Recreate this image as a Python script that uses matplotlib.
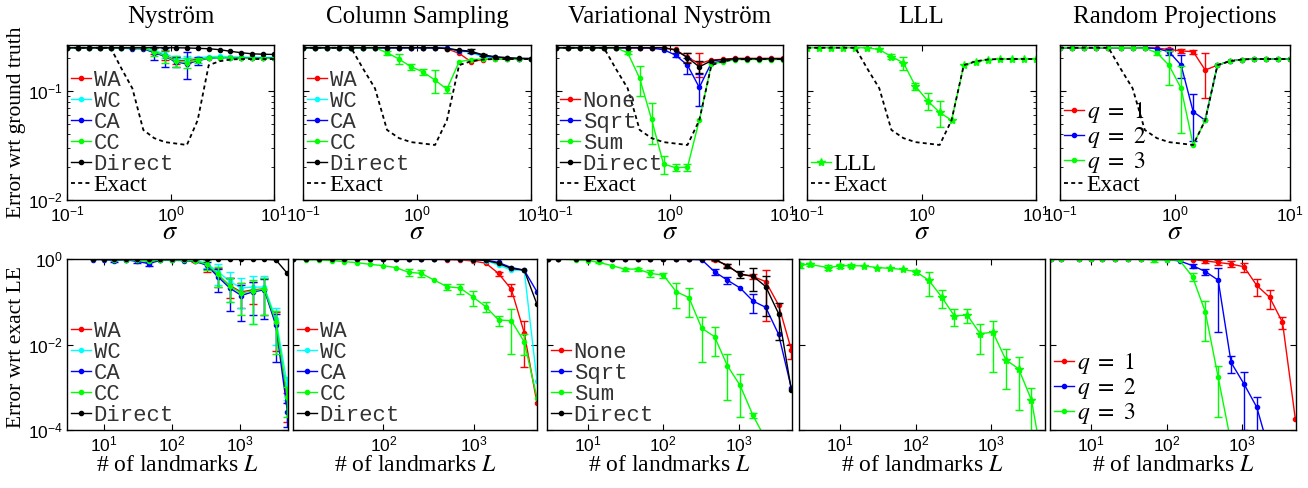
import numpy as np
import matplotlib
matplotlib.use('Agg')
import matplotlib.pyplot as plt

plt.rcParams['font.family'] = 'Liberation Sans'
plt.rcParams['mathtext.fontset'] = 'stix'
plt.rcParams['axes.linewidth'] = 1.0

# ---------------- data: top row (error vs sigma) ----------------
sigma = [0.1, 0.127, 0.162, 0.207, 0.264, 0.336, 0.428, 0.546, 0.695, 0.886,
         1.13, 1.44, 1.83, 2.34, 2.98, 3.79, 4.83, 6.16, 7.85, 10.0]

exact_top = [0.25, 0.25, 0.25, 0.25, 0.25, 0.161, 0.106, 0.044, 0.037, 0.034,
             0.033, 0.032, 0.054, 0.173, 0.188, 0.195, 0.197, 0.197, 0.197, 0.197]

nys_wa = [0.25, 0.25, 0.25, 0.25, 0.25, 0.25, 0.249, 0.247, 0.232, 0.212,
          0.192, 0.19, 0.196, 0.203, 0.205, 0.204, 0.203, 0.203, 0.202, 0.202]
nys_wc = [0.25, 0.25, 0.25, 0.25, 0.25, 0.25, 0.249, 0.248, 0.236, 0.22,
          0.2, 0.198, 0.202, 0.207, 0.208, 0.206, 0.205, 0.204, 0.204, 0.204]
nys_ca = [0.25, 0.25, 0.25, 0.25, 0.25, 0.248, 0.245, 0.245, 0.225, 0.208,
          0.185, 0.178, 0.19, 0.2, 0.203, 0.202, 0.202, 0.201, 0.201, 0.201]
nys_cc = [0.25, 0.25, 0.25, 0.25, 0.25, 0.25, 0.249, 0.247, 0.23, 0.21,
          0.188, 0.183, 0.192, 0.201, 0.203, 0.202, 0.201, 0.201, 0.2, 0.2]
nys_direct = [0.25, 0.25, 0.25, 0.25, 0.25, 0.25, 0.25, 0.25, 0.25, 0.25,
              0.25, 0.249, 0.247, 0.245, 0.24, 0.232, 0.225, 0.22, 0.218, 0.217]
nys_wa_err = [0, 0, 0, 0, 0, 0, 0, 0, 0.015, 0.02, 0.015, 0.01, 0, 0, 0, 0, 0, 0, 0, 0]
nys_wc_err = [0, 0, 0, 0, 0, 0, 0, 0, 0, 0.02, 0.01, 0.01, 0, 0, 0, 0, 0, 0, 0, 0]
nys_ca_err = [0, 0, 0, 0, 0, 0, 0, 0, 0.03, 0.04, 0.02, 0.05, 0.015, 0, 0, 0, 0, 0, 0, 0]
nys_cc_err = [0, 0, 0, 0, 0, 0, 0, 0, 0.02, 0.03, 0.02, 0.02, 0.01, 0, 0, 0, 0, 0, 0, 0]

cs_wa = [0.25, 0.25, 0.25, 0.25, 0.25, 0.25, 0.25, 0.25, 0.25, 0.25,
         0.25, 0.25, 0.245, 0.222, 0.186, 0.195, 0.197, 0.197, 0.197, 0.197]
cs_wc = [0.25, 0.25, 0.25, 0.25, 0.25, 0.25, 0.25, 0.25, 0.25, 0.25,
         0.25, 0.25, 0.247, 0.232, 0.228, 0.205, 0.2, 0.198, 0.198, 0.198]
cs_ca = [0.25, 0.25, 0.25, 0.25, 0.25, 0.25, 0.25, 0.25, 0.25, 0.25,
         0.25, 0.249, 0.247, 0.235, 0.23, 0.212, 0.204, 0.2, 0.199, 0.199]
cs_cc = [0.25, 0.25, 0.25, 0.25, 0.25, 0.25, 0.25, 0.225, 0.197, 0.167,
         0.15, 0.126, 0.104, 0.186, 0.195, 0.197, 0.198, 0.198, 0.198, 0.198]
cs_direct = [0.25, 0.25, 0.25, 0.25, 0.25, 0.25, 0.25, 0.25, 0.25, 0.25,
             0.25, 0.25, 0.246, 0.238, 0.232, 0.215, 0.207, 0.203, 0.2, 0.199]
cs_cc_err = [0, 0, 0, 0, 0, 0, 0, 0.01, 0.02, 0.01, 0.01, 0.03, 0.008, 0, 0, 0, 0, 0, 0, 0]
cs_direct_err = [0, 0, 0, 0, 0, 0, 0, 0, 0, 0, 0, 0, 0, 0, 0.01, 0.006, 0, 0, 0, 0]

vn_none = [0.25, 0.25, 0.25, 0.25, 0.25, 0.25, 0.25, 0.25, 0.25, 0.25,
           0.241, 0.204, 0.179, 0.193, 0.196, 0.2, 0.2, 0.2, 0.2, 0.2]
vn_sqrt = [0.25, 0.25, 0.25, 0.25, 0.25, 0.25, 0.25, 0.25, 0.248, 0.24,
           0.214, 0.173, 0.108, 0.182, 0.188, 0.196, 0.196, 0.196, 0.196, 0.196]
vn_sum = [0.25, 0.25, 0.25, 0.25, 0.25, 0.25, 0.225, 0.131, 0.055, 0.0214,
          0.0198, 0.02, 0.054, 0.177, 0.186, 0.195, 0.195, 0.195, 0.195, 0.195]
vn_direct = [0.25, 0.25, 0.25, 0.25, 0.25, 0.25, 0.25, 0.25, 0.25, 0.25,
             0.238, 0.203, 0.167, 0.19, 0.195, 0.198, 0.198, 0.198, 0.198, 0.198]
vn_none_err = [0, 0, 0, 0, 0, 0, 0, 0, 0, 0, 0, 0.02, 0.045, 0, 0, 0, 0, 0, 0, 0]
vn_sqrt_err = [0, 0, 0, 0, 0, 0, 0, 0, 0, 0, 0.01, 0.03, 0.035, 0, 0, 0, 0, 0, 0, 0]
vn_sum_err = [0, 0, 0, 0, 0, 0, 0.008, 0.04, 0.022, 0.004, 0.0015, 0.0015, 0, 0, 0, 0, 0, 0, 0, 0]
vn_direct_err = [0, 0, 0, 0, 0, 0, 0, 0, 0, 0, 0, 0.02, 0.02, 0, 0, 0, 0, 0, 0, 0]

lll_top = [0.25, 0.25, 0.25, 0.25, 0.25, 0.25, 0.241, 0.207, 0.182, 0.111,
           0.0815, 0.0637, 0.054, 0.173, 0.186, 0.195, 0.197, 0.197, 0.197, 0.197]
lll_top_err = [0, 0, 0, 0, 0, 0, 0, 0.01, 0.025, 0.008, 0.015, 0.017, 0, 0, 0, 0, 0, 0, 0, 0]

rp_q1 = [0.25, 0.25, 0.25, 0.25, 0.25, 0.25, 0.25, 0.25, 0.248, 0.241,
         0.234, 0.23, 0.156, 0.173, 0.188, 0.195, 0.197, 0.197, 0.197, 0.197]
rp_q2 = [0.25, 0.25, 0.25, 0.25, 0.25, 0.25, 0.25, 0.25, 0.246, 0.23,
         0.173, 0.0646, 0.054, 0.173, 0.188, 0.195, 0.197, 0.197, 0.197, 0.197]
rp_q3 = [0.25, 0.25, 0.25, 0.25, 0.25, 0.25, 0.25, 0.248, 0.225, 0.173,
         0.106, 0.032, 0.054, 0.173, 0.188, 0.195, 0.197, 0.197, 0.197, 0.197]
rp_q1_err = [0, 0, 0, 0, 0, 0, 0, 0, 0, 0.01, 0.012, 0.01, 0.07, 0, 0, 0, 0, 0, 0, 0]
rp_q2_err = [0, 0, 0, 0, 0, 0, 0, 0, 0, 0.015, 0.04, 0.03, 0, 0, 0, 0, 0, 0, 0, 0]
rp_q3_err = [0, 0, 0, 0, 0, 0, 0, 0, 0.01, 0.06, 0.065, 0, 0, 0, 0, 0, 0, 0, 0, 0]

# ---------------- data: bottom row (error vs number of landmarks) ----------------
L = [3, 4, 7, 10, 14, 21, 31, 46, 68, 101, 149, 220, 325, 480, 710, 1049,
     1550, 2290, 3384, 5000]
L_nys = [7, 10, 14, 21, 31, 46, 68, 101, 149, 220, 325, 480, 710, 1049,
         1550, 2290, 3384, 5000]
L_cs = [10, 13.9, 19.2, 26.7, 37.0, 51.3, 71.2, 98.7, 136.9, 190, 263, 365,
        507, 703, 975, 1353, 1876, 2602, 3607, 5000]

nysL_wa = [0.98, 0.98, 0.96, 0.97, 0.95, 0.9, 0.95, 0.95, 0.94, 0.9, 0.74,
           0.42, 0.24, 0.17, 0.19, 0.2, 0.032, 4.5e-4]
nysL_wc = [0.98, 0.98, 0.97, 0.97, 0.96, 0.93, 0.96, 0.96, 0.95, 0.93, 0.8,
           0.5, 0.3, 0.21, 0.22, 0.22, 0.04, 1.1e-3]
nysL_ca = [0.97, 0.97, 0.92, 0.96, 0.88, 0.78, 0.93, 0.93, 0.92, 0.88, 0.72,
           0.38, 0.21, 0.14, 0.17, 0.19, 0.028, 2.7e-4]
nysL_cc = [0.98, 0.98, 0.96, 0.97, 0.94, 0.88, 0.95, 0.95, 0.94, 0.9, 0.76,
           0.44, 0.23, 0.16, 0.18, 0.2, 0.034, 6e-4]
nysL_direct = [1, 1, 1, 1, 1, 1, 1, 1, 1, 1, 1, 1, 1, 1, 1, 0.99, 0.95, 0.46]
nysL_wa_err = [0, 0, 0, 0, 0, 0, 0, 0, 0, 0.05, 0.25, 0.2, 0.12, 0.1, 0.1,
               0.15, 0.025, 3e-4]
nysL_wc_err = [0, 0, 0, 0, 0, 0, 0, 0, 0, 0, 0.2, 0.25, 0.2, 0.14, 0.19,
               0.17, 0.03, 6e-4]
nysL_ca_err = [0, 0, 0.05, 0, 0.06, 0.08, 0, 0, 0, 0, 0.15, 0.21, 0.15, 0.105,
               0.12, 0.15, 0.024, 1.5e-4]
nysL_cc_err = [0, 0, 0, 0, 0, 0, 0, 0, 0, 0, 0.2, 0.22, 0.13, 0.11, 0.15,
               0.15, 0.028, 4e-4]

csL_wa = [1, 1, 1, 1, 1, 1, 1, 1, 1, 0.99, 0.99, 0.98, 0.97, 0.95, 0.9, 0.8,
          0.46, 0.195, 0.019, 4.2e-4]
csL_wc = [1, 1, 1, 1, 1, 1, 1, 1, 1, 0.99, 0.99, 0.98, 0.98, 0.98, 0.96,
          0.92, 0.72, 0.55, 0.55, 1.4e-3]
csL_ca = [1, 1, 1, 1, 1, 1, 1, 1, 1, 1, 1, 1, 1, 1, 0.98, 0.95, 0.83, 0.63,
          0.55, 0.17]
csL_cc = [1, 0.96, 0.95, 0.92, 0.866, 0.82, 0.75, 0.70, 0.63, 0.49, 0.46, 0.32,
          0.225, 0.21, 0.13, 0.077, 0.0375, 0.036, 0.0116, 5.7e-4]
csL_direct = [1, 1, 1, 1, 1, 1, 1, 1, 1, 1, 1, 1, 1, 0.99, 0.97, 0.93, 0.79,
              0.6, 0.55, 0.087]
csL_wa_err = [0, 0, 0, 0, 0, 0, 0, 0, 0, 0, 0, 0, 0, 0, 0, 0, 0.05, 0.06,
              0.016, 0]
csL_cc_err = [0, 0, 0, 0, 0, 0, 0, 0, 0, 0.08, 0.08, 0, 0.04, 0.055, 0.05,
              0.02, 0.01, 0.03, 0.006, 0]

vnL_none = [1, 1, 1, 1, 1, 1, 1, 1, 1, 1, 1, 0.99, 0.98, 0.97, 0.70, 0.44,
            0.39, 0.295, 0.084, 7.5e-3]
vnL_sqrt = [1, 1, 1, 1, 1, 1, 1, 0.99, 0.99, 0.99, 0.98, 0.98, 0.96, 0.505,
            0.32, 0.21, 0.104, 0.074, 0.0174, 9.5e-4]
vnL_sum = [1, 1, 0.95, 0.92, 0.835, 0.70, 0.58, 0.58, 0.46, 0.42, 0.172, 0.125,
           0.024, 0.0153, 0.0032, 1.1e-3, 2.2e-4, 6e-5, 1e-5, 3e-6]
vnL_direct = [1, 1, 1, 1, 1, 1, 1, 1, 1, 1, 1, 0.99, 0.98, 0.98, 0.70, 0.44,
              0.40, 0.226, 0.053, 8.6e-4]
vnL_none_err = [0, 0, 0, 0, 0, 0, 0, 0, 0, 0, 0, 0, 0, 0.05, 0.06, 0, 0.05,
                0.26, 0, 0.003]
vnL_sqrt_err = [0, 0, 0, 0, 0, 0, 0, 0, 0, 0, 0, 0, 0, 0.09, 0.06, 0, 0.05,
                0, 0, 0]
vnL_sum_err = [0, 0, 0, 0, 0.03, 0, 0.05, 0.05, 0.08, 0.06, 0.1, 0.08, 0.02,
               0.01, 0.0027, 0.0009, 3e-5, 0, 0, 0]
vnL_direct_err = [0, 0, 0, 0, 0, 0, 0, 0, 0, 0, 0, 0, 0, 0.03, 0.07, 0.08,
                  0.22, 0.18, 0.04, 0]

lllL = [0.724, 0.75, 0.63, 0.69, 0.70, 0.69, 0.63, 0.605, 0.57, 0.505, 0.32,
        0.131, 0.0465, 0.049, 0.018, 0.0193, 4.4e-3, 2.7e-3, 5.0e-4, 1e-5]
lllL_err = [0.1, 0.05, 0.08, 0.08, 0.05, 0, 0, 0, 0, 0.05, 0.18, 0.06, 0.02,
            0.017, 0.012, 0.017, 0.0035, 0.0024, 4.7e-4, 0]

rpL_q1 = [1, 1, 1, 1, 1, 1, 1, 1, 0.99, 0.99, 0.98, 0.97, 0.9, 0.83, 0.76,
          0.66, 0.24, 0.127, 0.033, 1.8e-4]
rpL_q2 = [1, 1, 1, 1, 1, 1, 1, 1, 0.99, 0.97, 0.9, 0.70, 0.51, 0.32, 3.8e-3,
          1.2e-3, 3.4e-4, 3e-5, 1e-5, 5e-6]
rpL_q3 = [1, 1, 1, 1, 1, 1, 1, 1, 0.95, 0.95, 0.93, 0.386, 0.057, 1.7e-3,
          5e-5, 1e-5, 5e-6, 3e-6, 2e-6, 1e-6]
rpL_q1_err = [0, 0, 0, 0, 0, 0, 0, 0, 0, 0, 0, 0, 0.1, 0.1, 0.12, 0.15, 0.1,
              0.06, 0.01, 0]
rpL_q2_err = [0, 0, 0, 0, 0, 0, 0, 0, 0, 0, 0, 0.08, 0.08, 0.3, 0.0016,
              0.0011, 2.5e-4, 0, 0, 0]
rpL_q3_err = [0, 0, 0, 0, 0, 0, 0, 0, 0.1, 0, 0, 0.08, 0.045, 1.5e-3, 0, 0,
              0, 0, 0, 0]

RED, CYAN, BLUE, GREEN, BLACK = '#ff0000', '#00ffff', '#0000ff', '#00ff00', '#000000'

W, H = 1308, 488
fig = plt.figure(figsize=(W / 100, H / 100), dpi=100)


def px_axes(x0, x1, y0, y1):
    return fig.add_axes([x0 / W, 1 - y1 / H, (x1 - x0) / W, (y1 - y0) / H])


def series(ax, x, y, err, color, label, marker='.', ms=6):
    line, = ax.plot(x, y, color=color, marker=marker, ms=ms, lw=1.0, label=label)
    if err is not None:
        idx = [i for i, e in enumerate(err) if e > 0]
        if idx:
            xe = [x[i] for i in idx]
            ye = [y[i] for i in idx]
            ee = [err[i] for i in idx]
            lo = [min(e, yy * 0.999) for e, yy in zip(ee, ye)]
            ax.errorbar(xe, ye, yerr=[lo, ee], fmt='none', ecolor=color,
                        elinewidth=1.0, capsize=3, capthick=1.0)
    return line


def exact(ax, x, y):
    line, = ax.plot(x, y, color='black', ls=(0, (2.2, 1.8)), lw=1.3, label='Exact')
    return line


def style(ax, top, show_y):
    ax.set_xscale('log')
    ax.set_yscale('log')
    ax.tick_params(which='both', direction='in', top=True, right=True,
                   labelsize=12.5, pad=3)
    ax.tick_params(which='major', length=4)
    ax.tick_params(which='minor', length=2)
    if top:
        ax.set_xlim(0.1, 10)
        ax.set_ylim(0.01, 0.265)
        ax.set_xticks([0.1, 1, 10])
        ax.set_yticks([0.01, 0.1])
        ax.xaxis.set_minor_locator(matplotlib.ticker.NullLocator())
        ax.set_xlabel(r'$\sigma$', fontsize=19, labelpad=-3)
    else:
        ax.set_ylim(1e-4, 1.0)
        ax.set_yticks([1e-4, 1e-2, 1])
        ax.yaxis.set_minor_locator(matplotlib.ticker.NullLocator())
        ax.xaxis.set_minor_locator(matplotlib.ticker.NullLocator())
        ax.set_xlabel('# of landmarks $L$', fontsize=17, family='Liberation Serif',
                      labelpad=1)
    if not show_y:
        ax.set_yticklabels([])
        ax.set_yticklabels([], minor=True)


def legend(ax, handles, labels):
    leg = ax.legend(handles, labels, loc='lower left', frameon=False,
                    prop={'family': 'Liberation Mono', 'size': 16},
                    handlelength=0.9, handletextpad=0.1, labelspacing=0.0,
                    borderaxespad=0.1, borderpad=0.1)
    for t in leg.get_texts():
        s = t.get_text()
        t.set_color('#333333')
        if s in ('Exact', 'LLL') or s.startswith('$'):
            t.set_fontfamily('Liberation Serif')
            t.set_fontsize(17)
            t.set_color('black')
    return leg


top_x = [(67, 274), (303, 531), (556, 783), (807, 1036), (1060, 1290)]
bot_x = [(67, 288), (293, 537), (547, 792), (799, 1045), (1050, 1296)]
titles = ['Nyström', 'Column Sampling', 'Variational Nyström', 'LLL',
          'Random Projections']

# ---------- top row ----------
axT = [px_axes(x0, x1, 45, 200) for x0, x1 in top_x]
for i, ax in enumerate(axT):
    style(ax, True, i == 0)
    x0, x1 = top_x[i]
    fig.text((x0 + x1) / 2 / W, 1 - 17 / H, titles[i], ha='center', va='center',
             fontsize=18, family='Liberation Serif')

ax = axT[0]
h = [series(ax, sigma, nys_wa, nys_wa_err, RED, 'WA'),
     series(ax, sigma, nys_wc, nys_wc_err, CYAN, 'WC'),
     series(ax, sigma, nys_ca, nys_ca_err, BLUE, 'CA'),
     series(ax, sigma, nys_cc, nys_cc_err, GREEN, 'CC'),
     series(ax, sigma, nys_direct, None, BLACK, 'Direct'),
     exact(ax, sigma, exact_top)]
legend(ax, h, ['WA', 'WC', 'CA', 'CC', 'Direct', 'Exact'])

ax = axT[1]
h = [series(ax, sigma, cs_wa, None, RED, 'WA'),
     series(ax, sigma, cs_wc, None, CYAN, 'WC'),
     series(ax, sigma, cs_ca, None, BLUE, 'CA'),
     series(ax, sigma, cs_cc, cs_cc_err, GREEN, 'CC'),
     series(ax, sigma, cs_direct, cs_direct_err, BLACK, 'Direct'),
     exact(ax, sigma, exact_top)]
legend(ax, h, ['WA', 'WC', 'CA', 'CC', 'Direct', 'Exact'])

ax = axT[2]
h = [series(ax, sigma, vn_none, vn_none_err, RED, 'None'),
     series(ax, sigma, vn_sqrt, vn_sqrt_err, BLUE, 'Sqrt'),
     series(ax, sigma, vn_sum, vn_sum_err, GREEN, 'Sum'),
     series(ax, sigma, vn_direct, vn_direct_err, BLACK, 'Direct'),
     exact(ax, sigma, exact_top)]
legend(ax, h, ['None', 'Sqrt', 'Sum', 'Direct', 'Exact'])

ax = axT[3]
h = [series(ax, sigma, lll_top, lll_top_err, GREEN, 'LLL', marker='*', ms=6),
     exact(ax, sigma, exact_top)]
legend(ax, h, ['LLL', 'Exact'])

ax = axT[4]
h = [series(ax, sigma, rp_q1, rp_q1_err, RED, 'q1'),
     series(ax, sigma, rp_q2, rp_q2_err, BLUE, 'q2'),
     series(ax, sigma, rp_q3, rp_q3_err, GREEN, 'q3'),
     exact(ax, sigma, exact_top)]
legend(ax, h, [r'$q\ =\ 1$', r'$q\ =\ 2$', r'$q\ =\ 3$', 'Exact'])

# ---------- bottom row ----------
axB = [px_axes(x0, x1, 259, 430) for x0, x1 in bot_x]
for i, ax in enumerate(axB):
    style(ax, False, i == 0)
    if i == 1:
        ax.set_xlim(10, 5000)
        ax.set_xticks([100, 1000])
    else:
        ax.set_xlim(2.9, 5100)
        ax.set_xticks([10, 100, 1000])

ax = axB[0]
h = [series(ax, L_nys, nysL_wa, nysL_wa_err, RED, 'WA'),
     series(ax, L_nys, nysL_wc, nysL_wc_err, CYAN, 'WC'),
     series(ax, L_nys, nysL_ca, nysL_ca_err, BLUE, 'CA'),
     series(ax, L_nys, nysL_cc, nysL_cc_err, GREEN, 'CC'),
     series(ax, L_nys, nysL_direct, None, BLACK, 'Direct')]
legend(ax, h, ['WA', 'WC', 'CA', 'CC', 'Direct'])

ax = axB[1]
h = [series(ax, L_cs, csL_wa, csL_wa_err, RED, 'WA'),
     series(ax, L_cs, csL_wc, None, CYAN, 'WC'),
     series(ax, L_cs, csL_ca, None, BLUE, 'CA'),
     series(ax, L_cs, csL_cc, csL_cc_err, GREEN, 'CC'),
     series(ax, L_cs, csL_direct, None, BLACK, 'Direct')]
legend(ax, h, ['WA', 'WC', 'CA', 'CC', 'Direct'])

ax = axB[2]
h = [series(ax, L, vnL_none, vnL_none_err, RED, 'None'),
     series(ax, L, vnL_sqrt, vnL_sqrt_err, BLUE, 'Sqrt'),
     series(ax, L, vnL_sum, vnL_sum_err, GREEN, 'Sum'),
     series(ax, L, vnL_direct, vnL_direct_err, BLACK, 'Direct')]
legend(ax, h, ['None', 'Sqrt', 'Sum', 'Direct'])

ax = axB[3]
series(ax, L, lllL, lllL_err, GREEN, 'LLL', marker='*', ms=6)

ax = axB[4]
h = [series(ax, L, rpL_q1, rpL_q1_err, RED, 'q1'),
     series(ax, L, rpL_q2, rpL_q2_err, BLUE, 'q2'),
     series(ax, L, rpL_q3, rpL_q3_err, GREEN, 'q3')]
legend(ax, h, [r'$q\ =\ 1$', r'$q\ =\ 2$', r'$q\ =\ 3$'])

fig.text(17 / W, 1 - 122 / H, 'Error wrt ground truth', rotation=90,
         ha='center', va='center', fontsize=15.5, family='Liberation Serif')
fig.text(17 / W, 1 - 347 / H, 'Error wrt exact LE', rotation=90,
         ha='center', va='center', fontsize=15.5, family='Liberation Serif')

fig.savefig('out.png', dpi=100)
